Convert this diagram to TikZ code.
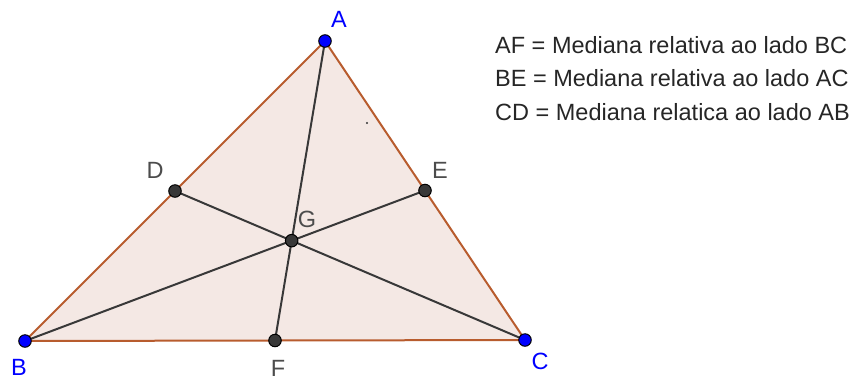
\documentclass[tikz,border=0pt]{standalone}
\usepackage{fontspec}
\setmainfont{Liberation Sans}
\usepackage{tikz}
\usetikzlibrary{positioning,calc}

\definecolor{edgebrown}{HTML}{B85C2E}
\definecolor{facepink}{HTML}{F4E8E4}
\definecolor{ptgray}{HTML}{383838}
\definecolor{ptblue}{HTML}{0000FF}

\begin{document}
\begin{tikzpicture}[
  x=1pt, y=-1pt,
  font=\fontsize{23.5}{28}\selectfont,
  side/.style={draw=edgebrown, line width=2pt},
  med/.style={draw=ptgray, line width=2pt},
  free/.style={circle, fill=ptblue, draw=black, line width=1pt, inner sep=0pt, minimum size=12.5pt},
  dep/.style={circle, fill=ptgray, draw=black, line width=1pt, inner sep=0pt, minimum size=12.5pt},
  bluelbl/.style={text=ptblue, inner sep=0pt},
  graylbl/.style={text=ptgray!90, inner sep=0pt},
  legend/.style={anchor=west, inner sep=0pt, text=black!85}
]
\useasboundingbox (0,0) rectangle (862,376);
% --- vertices and midpoints ---
\coordinate (pA) at (325,41);
\coordinate (pB) at (25,341);
\coordinate (pC) at (525,340);
\coordinate (pD) at ($(pA)!0.5!(pB)$);
\coordinate (pE) at ($(pA)!0.5!(pC)$);
\coordinate (pF) at ($(pB)!0.5!(pC)$);
\coordinate (pG) at ($1/3*(pA)+1/3*(pB)+1/3*(pC)$);
% --- triangle ---
\fill[facepink] (pA) -- (pB) -- (pC) -- cycle;
\draw[side, line join=round] (pA) -- (pB) -- (pC) -- cycle;
\fill[black!80] (367,123) circle (1.2pt);
% --- medians ---
\foreach \from/\to in {pA/pF, pB/pE, pC/pD}
  \draw[med] (\from) -- (\to);
% --- points ---
\foreach \p in {A,B,C}
  \node[free] (\p) at (p\p) {};
\foreach \p in {D,E,F,G}
  \node[dep] (\p) at (p\p) {};
% --- labels ---
\node[bluelbl] (lblA) at (339,19) {A};
\node[bluelbl] (lblB) at (19,367) {B};
\node[bluelbl] (lblC) at (540,361) {C};
\node[graylbl] (lblD) at (155,170) {D};
\node[graylbl] (lblE) at (440,170) {E};
\node[graylbl] (lblF) at (278,368) {F};
\node[graylbl] (lblG) at (307,219) {G};
% --- legend ---
\node[legend] (afline) at (495,45) {AF = Mediana relativa ao lado BC};
\node[legend] (beline) at (495,78) {BE = Mediana relativa ao lado AC};
\node[legend] (cdline) at (495,112) {CD = Mediana relatica ao lado AB};
\end{tikzpicture}
\end{document}
